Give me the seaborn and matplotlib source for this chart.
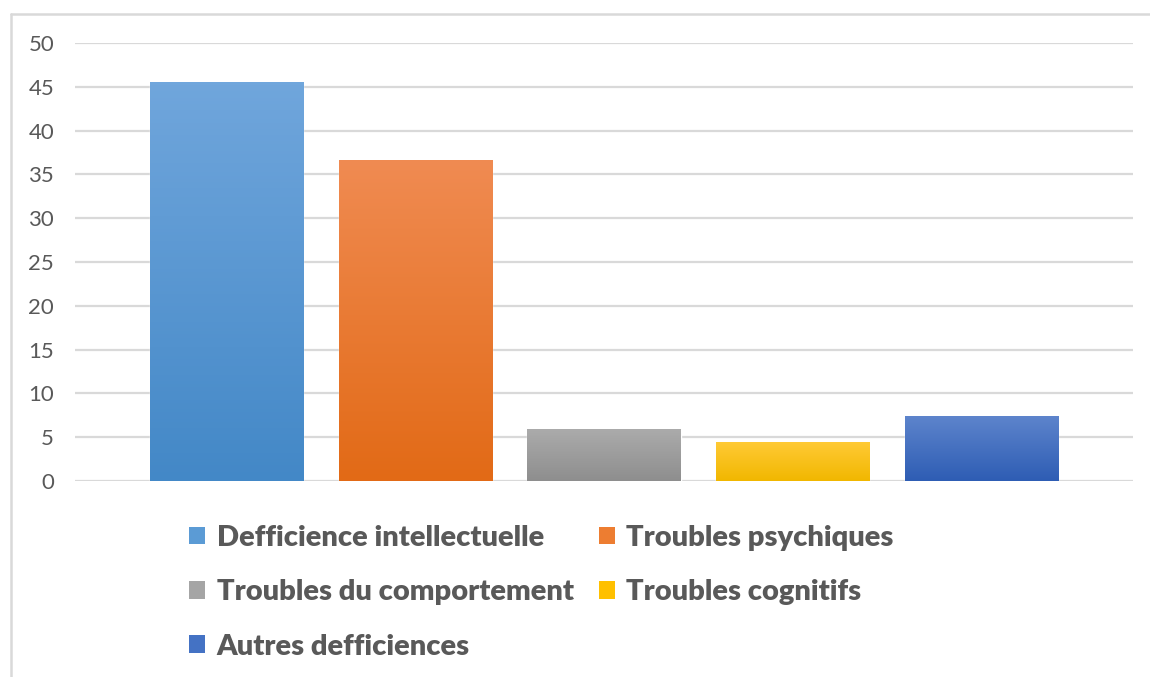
# plot.py  -  bar chart of deficiency categories (Excel-style look)
import numpy as np
import pandas as pd
import matplotlib
matplotlib.use("Agg")
import matplotlib.pyplot as plt
import matplotlib.patheffects as pe
from matplotlib.patches import Patch
from matplotlib.lines import Line2D
import seaborn as sns

# ---------- Data ----------
categories = ["Defficience intellectuelle", "Troubles psychiques",
              "Troubles du comportement", "Troubles cognitifs",
              "Autres defficiences"]
values = [45.5, 36.7, 5.9, 4.4, 7.4]
y_ticks = [0, 5, 10, 15, 20, 25, 30, 35, 40, 45, 50]

# gradient colours (top, bottom) per bar
top_colors = ["#70A6DC", "#F08B52", "#ABABAB", "#FFCA35", "#5D84CC"]
bottom_colors = ["#4388C7", "#E26A16", "#8E8E8E", "#F1B700", "#2E5DB4"]
mid_colors = ["#5B9BD5", "#ED7D31", "#A5A5A5", "#FFC000", "#4472C4"]

df = pd.DataFrame({"Categorie": categories, "Valeur": values})

# ---------- Style ----------
sns.set_style("white")
plt.rcParams["font.family"] = ["Lato", "DejaVu Sans"]
text_grey = "#595959"
grid_grey = "#D9D9D9"

fig = plt.figure(figsize=(11.5, 6.77), dpi=100)
W, H = 1150, 677
ax = fig.add_axes([75 / W, (H - 481) / H, (1133 - 75) / W, (481 - 43) / H])

sns.barplot(data=df, x="Categorie", y="Valeur", hue="Categorie",
            palette=mid_colors, legend=False, width=0.81, ax=ax,
            saturation=1, zorder=3)

# gradient fill + soft shadow on each bar
for bar, c_top, c_bot in zip(ax.patches, top_colors, bottom_colors):
    bar.set_path_effects([pe.SimplePatchShadow(offset=(0, -2), shadow_rgbFace="#808080",
                                               alpha=0.35),
                          pe.Normal()])
    x0, w, h = bar.get_x(), bar.get_width(), bar.get_height()
    c1 = np.array(matplotlib.colors.to_rgb(c_top))
    c2 = np.array(matplotlib.colors.to_rgb(c_bot))
    t = np.linspace(0, 1, 128)[:, None]
    grad = (c1 * (1 - t) + c2 * t)[:, None, :]
    im = ax.imshow(grad, extent=(x0, x0 + w, 0, h), aspect="auto",
                   origin="upper", zorder=4)
    im.set_clip_path(bar)

ax.set_xlim(-0.80, 4.80)
ax.set_ylim(0, 50)
ax.set_yticks(y_ticks)
ax.set_yticklabels([str(v) for v in y_ticks], fontsize=16, color=text_grey)
ax.set_xticks([])
ax.set_xlabel("")
ax.set_ylabel("")
ax.tick_params(axis="y", length=0, pad=15)
ax.grid(axis="y", color=grid_grey, lw=1.6, zorder=0)
ax.set_axisbelow(True)
for s in ax.spines.values():
    s.set_visible(False)

# ---------- Legend (row-wise order) ----------
handles = [Patch(facecolor=c, edgecolor="none", label=lab)
           for c, lab in zip(mid_colors, categories)]
order = [0, 2, 4, 1, 3]
leg = fig.legend([handles[i] for i in order], [categories[i] for i in order],
                 ncol=2, loc="upper left", bbox_to_anchor=(189 / W, 1 - 525 / H),
                 frameon=False, fontsize=21, handlelength=0.55, handleheight=0.55,
                 handletextpad=0.4, columnspacing=0.85, labelspacing=0.97,
                 borderpad=0, borderaxespad=0)
for txt in leg.get_texts():
    txt.set_color(text_grey)
    txt.set_fontweight("heavy")

# ---------- Chart border (Excel frame) ----------
fig.add_artist(Line2D([10.5 / W, 10.5 / W], [0, 1 - 14 / H], color=grid_grey, lw=1.8,
                      transform=fig.transFigure))
fig.add_artist(Line2D([10.5 / W, 1], [1 - 14 / H, 1 - 14 / H], color=grid_grey, lw=1.8,
                      transform=fig.transFigure))

fig.savefig("out.png", dpi=100, facecolor="white")
